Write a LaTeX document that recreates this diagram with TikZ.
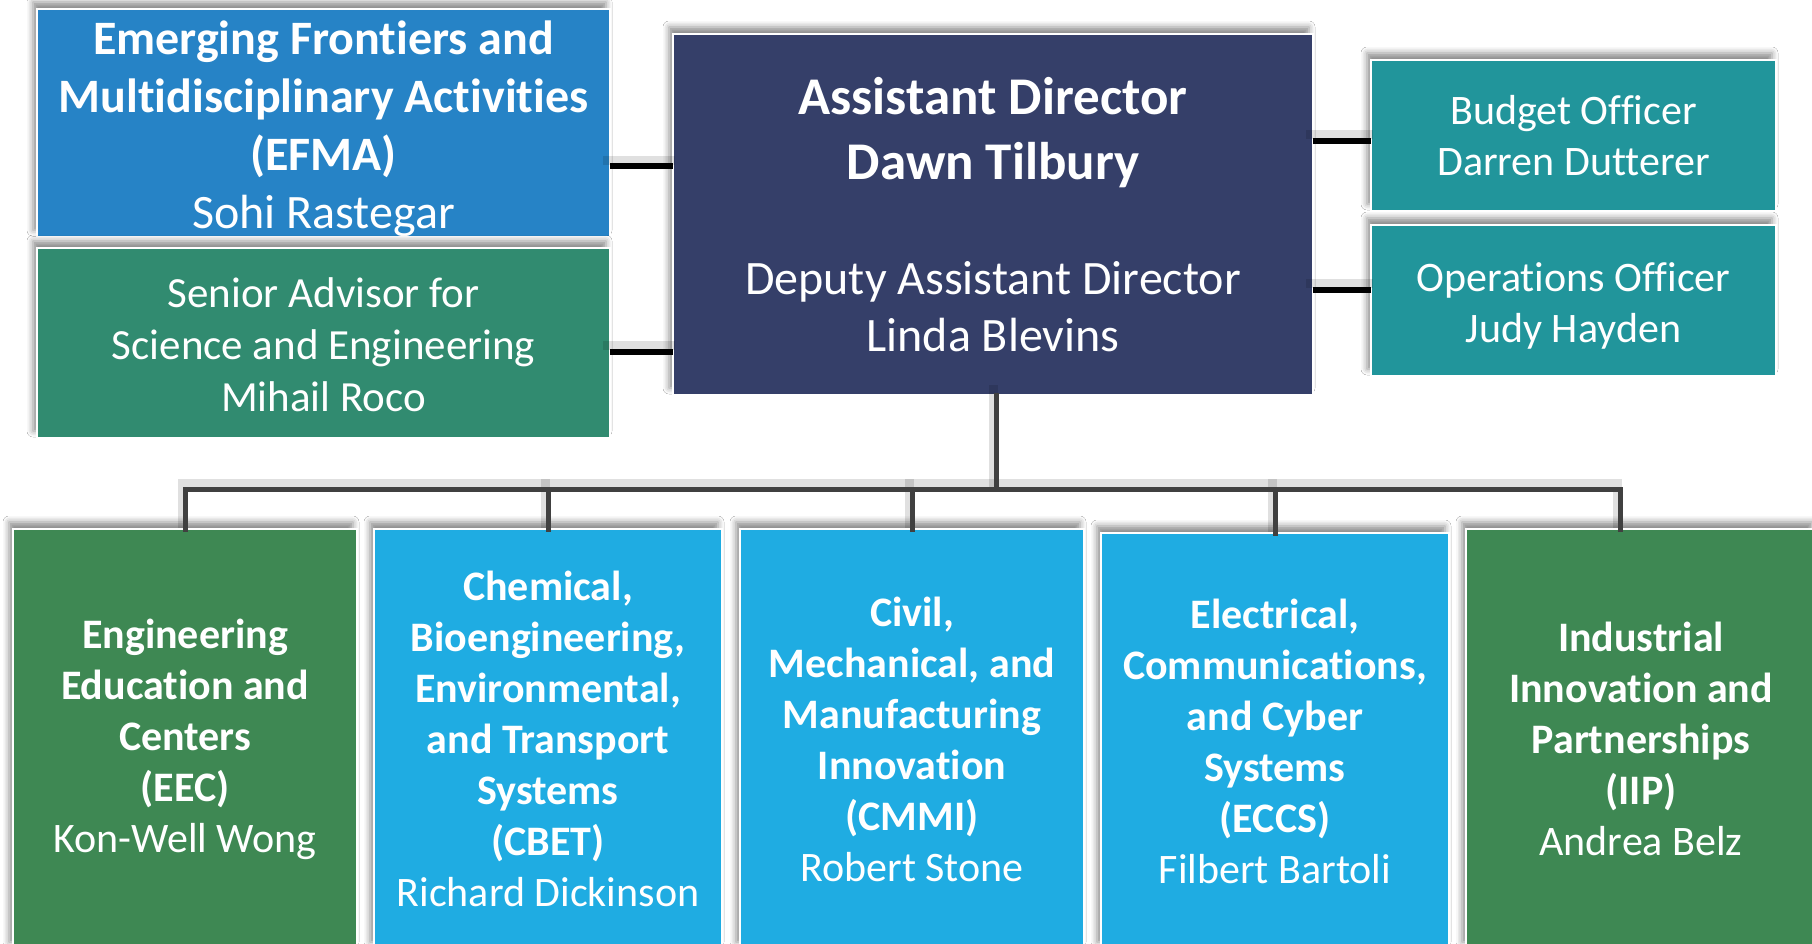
\documentclass[tikz,border=0pt]{standalone}
\usepackage{fontspec}
\setmainfont{Carlito}[Ligatures={NoCommon}]
\usetikzlibrary{calc,shadows.blur}
\definecolor{efmacol}{HTML}{2683C6}
\definecolor{sacol}{HTML}{318B70}
\definecolor{adcol}{HTML}{353F69}
\definecolor{offcol}{HTML}{21959B}
\definecolor{grncol}{HTML}{3E8853}
\definecolor{cyancol}{HTML}{1FACE2}
\definecolor{buscol}{HTML}{404040}
\tikzset{
  box/.style={draw=white, line width=2pt, text=white, align=center, inner sep=0pt, outer sep=0pt,
    anchor=north west,
    blur shadow={shadow xshift=-4pt, shadow yshift=7pt, shadow blur radius=6pt, shadow opacity=45}},
  sidecon/.style={draw=black, line width=6pt},
  buscon/.style={draw=buscol, line width=5pt, line cap=rect},
  lineshadow/.style={draw=black, line width=9pt, opacity=0.12, line cap=rect,
    transform canvas={shift={(-3pt,6pt)}}},
  fbig/.style={font=\fontsize{48}{58}\selectfont\bfseries},
  fsa/.style={font=\fontsize{43}{52}\selectfont},
  foff/.style={font=\fontsize{42}{51}\selectfont},
  fbot/.style={font=\fontsize{42}{51}\selectfont\bfseries},
}
\newcommand{\nm}{\fontsize{42}{51}\selectfont\mdseries}
\newcommand{\lift}[1]{\rule{0pt}{#1}}
\begin{document}
\begin{tikzpicture}[x=1pt,y=-1pt]
\useasboundingbox (0,0) rectangle (1812,944);
\fill[white] (0,0) rectangle (1812,944);

% top row
\node[box, fill=efmacol, fbig, minimum width=573, minimum height=228] (efma) at (37,9)
  {\lift{46pt}Emerging Frontiers and\\Multidisciplinary Activities\\(EFMA)\\\fontsize{48}{58}\selectfont\mdseries Sohi Rastegar};
\node[box, fill=sacol, fsa, minimum width=573, minimum height=190] (sa) at (37,248)
  {\lift{34pt}Senior Advisor for\\Science and Engineering\\Mihail Roco};
\node[box, fill=adcol, font=\fontsize{53}{65}\selectfont\bfseries, minimum width=640, minimum height=361] (ad) at (673,34)
  {Assistant Director\\Dawn Tilbury\\[50pt]\fontsize{48}{58}\selectfont\mdseries Deputy Assistant Director\\[-8pt]\fontsize{48}{58}\selectfont\mdseries Linda Blevins};
\node[box, fill=offcol, foff, minimum width=405, minimum height=151] (bud) at (1371,60)
  {Budget Officer\\Darren Dutterer};
\node[box, fill=offcol, foff, minimum width=405, minimum height=151] (ops) at (1371,225)
  {\lift{40pt}Operations Officer\\Judy Hayden};

% bottom row
\node[box, fill=grncol, fbot, minimum width=344, minimum height=420] (eec) at (13,529)
  {Engineering\\Education and\\Centers\\(EEC)\\\nm Kon-Well Wong};
\node[box, fill=cyancol, fbot, minimum width=348, minimum height=420] (cbet) at (374,529)
  {Chemical,\\Bioengineering,\\Environmental,\\and Transport\\Systems\\(CBET)\\\nm Richard Dickinson};
\node[box, fill=cyancol, fbot, minimum width=344, minimum height=420] (cmmi) at (740,529)
  {Civil,\\Mechanical, and\\Manufacturing\\Innovation\\(CMMI)\\\nm Robert Stone};
\node[box, fill=cyancol, fbot, minimum width=348, minimum height=416] (eccs) at (1101,533)
  {Electrical,\\Communications,\\and Cyber\\Systems\\(ECCS)\\\nm Filbert Bartoli};
\node[box, fill=grncol, fbot, minimum width=350, minimum height=420] (iip) at (1466,529)
  {Industrial\\Innovation and\\Partnerships\\(IIP)\\\nm Andrea Belz};

% side connectors
\coordinate (c1) at ($(efma.north east)!0.688!(efma.south east)$);
\coordinate (c2) at ($(sa.north east)!0.547!(sa.south east)$);
\coordinate (c3) at ($(bud.north west)!0.536!(bud.south west)$);
\coordinate (c4) at ($(ops.north west)!0.43!(ops.south west)$);
\foreach \c/\t in {c1/west, c2/west, c3/east, c4/east}{
  \draw[lineshadow] (\c) -- (\c -| ad.\t);
  \draw[sidecon] (\c) -- (\c -| ad.\t);
}

% tree
\coordinate (bus) at ($(ad.south)+(3,94)$);
\coordinate (adbot) at ($(ad.south)+(3,0)$);
\coordinate (iiptop) at ($(iip.north)+(-21,0)$);
\draw[lineshadow] (eec.north) -- (eec.north |- bus) -- (iiptop |- bus) -- (iiptop);
\draw[lineshadow] (adbot) -- (bus);
\foreach \n in {cbet,cmmi,eccs}{
  \draw[lineshadow] (\n.north |- bus) -- (\n.north);
}
\draw[buscon] (eec.north) -- (eec.north |- bus) -- (iiptop |- bus) -- (iiptop);
\draw[buscon] (adbot) -- (bus);
\foreach \n in {cbet,cmmi,eccs}{
  \draw[buscon] (\n.north |- bus) -- (\n.north);
}
\end{tikzpicture}
\end{document}
